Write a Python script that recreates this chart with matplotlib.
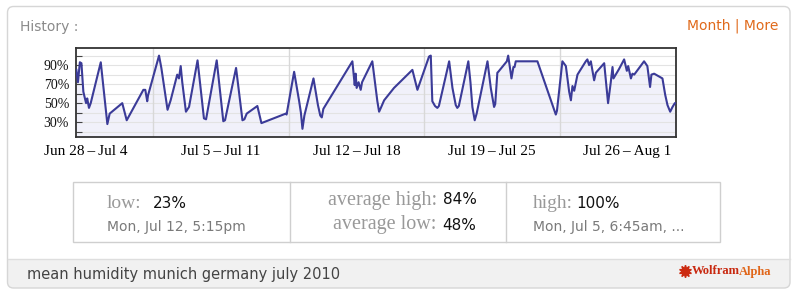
import matplotlib
matplotlib.use("Agg")
import matplotlib.pyplot as plt
from matplotlib.patches import FancyBboxPatch, Rectangle

# humidity trace, x = day of July (1.0 = Jul 1 00:00), y = percent
days = [1.02, 1.10, 1.20, 1.28, 1.38, 1.52, 1.58, 1.67, 1.76, 2.28, 2.62, 2.74,
        3.39, 3.62, 4.48, 4.58, 4.68, 4.72, 5.29, 5.41, 5.73, 5.89, 6.23, 6.32,
        6.41, 6.49, 6.68, 6.84, 7.28, 7.61, 7.72, 8.27, 8.61, 8.70, 9.27, 9.60,
        9.70, 9.82, 10.37, 10.58, 11.84, 11.88, 12.27, 12.53, 12.62, 12.70, 12.80,
        13.27, 13.50, 13.62, 13.70, 13.78, 15.28, 15.40, 15.45, 15.50, 15.60,
        15.71, 15.78, 16.31, 16.57, 16.66, 16.75, 16.92, 17.43, 18.38, 18.64,
        19.24, 19.33, 19.41, 19.55, 19.67, 19.75, 20.28, 20.45, 20.62, 20.70,
        20.78, 21.27, 21.38, 21.48, 21.60, 21.70, 22.26, 22.43, 22.60, 22.66,
        22.77, 22.82, 23.26, 23.33, 23.40, 23.50, 23.60, 23.66, 23.72, 24.84,
        25.79, 25.85, 26.13, 26.31, 26.48, 26.57, 26.65, 26.74, 26.91, 27.34,
        27.42, 27.51, 27.60, 27.77, 27.86, 28.29, 28.49, 28.63, 28.72, 28.77,
        29.06, 29.32, 29.46, 29.53, 29.67, 29.75, 29.84, 30.35, 30.52, 30.66,
        30.73, 30.87, 31.30, 31.44, 31.56, 31.70, 31.82, 31.94, 32.0]
humidity = [85, 72, 93, 92, 62, 50, 55, 45, 50, 93, 28, 39,
            50, 32, 64, 64, 52, 58, 100, 87, 43, 53, 80, 76,
            89, 72, 41, 46, 95, 34, 33, 95, 31, 32, 87, 32,
            33, 39, 47, 29, 39, 38, 83, 52, 40, 23, 37,
            76, 48, 37, 35, 44, 94, 69, 81, 66, 72,
            64, 72, 94, 52, 41, 45, 53, 66, 85, 64,
            99, 100, 52, 47, 45, 47, 94, 66, 48, 45,
            47, 94, 72, 46, 32, 39, 94, 66, 46, 49,
            82, 83, 94, 100, 90, 76, 88, 88, 94, 94,
            38, 42, 94, 89, 62, 53, 68, 63, 80, 94,
            96, 90, 94, 74, 82, 92, 50, 72, 88, 76,
            86, 96, 84, 89, 76, 81, 80, 94, 89, 67,
            80, 81, 76, 59, 48, 41, 46, 50, 50]

week_labels = ["Jun 28\u2009\u2013\u2009Jul 4", "Jul 5\u2009\u2013\u2009Jul 11",
               "Jul 12\u2009\u2013\u2009Jul 18", "Jul 19\u2009\u2013\u2009Jul 25",
               "Jul 26\u2009\u2013\u2009Aug 1"]
week_centers = [1.5, 8.5, 15.5, 22.5, 29.5]
week_bounds = [5, 12, 19, 26]
y_ticks = [20, 30, 40, 50, 60, 70, 80, 90, 100]
y_labelled = [30, 50, 70, 90]

W, H = 800, 297
fig = plt.figure(figsize=(W / 100, H / 100), dpi=100)

# pixel-space background layer for the card, table and footer
bg = fig.add_axes([0, 0, 1, 1])
bg.set_xlim(0, W)
bg.set_ylim(H, 0)
bg.axis("off")

card = FancyBboxPatch((7.5, 6.5), 782.5, 281.5,
                      boxstyle="round,pad=0,rounding_size=6",
                      fc="white", ec="none")
bg.add_patch(card)
footer = Rectangle((0, 258.5), W, 40, fc="#f1f1f1", ec="none")
bg.add_patch(footer)
footer.set_clip_path(card)
bg.plot([7.5, 790], [258.5, 258.5], color="#dedede", lw=1)
bg.add_patch(FancyBboxPatch((7.5, 6.5), 782.5, 281.5,
                            boxstyle="round,pad=0,rounding_size=6",
                            fc="none", ec="#d6d6d6", lw=1))

sans = "DejaVu Sans"
serif = "Liberation Serif"

bg.text(20, 27, "History :", fontsize=10, color="#8a8a8a", family=sans, va="center")
bg.text(778, 26, "Month | More", fontsize=10, color="#e0691a", family=sans,
        va="center", ha="right")

# summary table
bg.add_patch(Rectangle((72.5, 181.5), 647, 60, fc="none", ec="#cfcfcf", lw=1))
bg.plot([289.5, 289.5], [181.5, 241.5], color="#cfcfcf", lw=1)
bg.plot([505.5, 505.5], [181.5, 241.5], color="#cfcfcf", lw=1)

bg.text(107, 203, "low:", fontsize=14, color="#999999", family=serif, va="center")
bg.text(152.5, 203, "23%", fontsize=11, color="#111111", family=sans, va="center")
bg.text(107, 226.5, "Mon, Jul 12, 5:15pm", fontsize=10, color="#7a7a7a",
        family=sans, va="center")

bg.text(437, 200, "average high:", fontsize=14.5, color="#999999", family=serif,
        va="center", ha="right")
bg.text(442.5, 200, "84%", fontsize=11, color="#111111", family=sans, va="center")
bg.text(436, 225, "average low:", fontsize=14.5, color="#999999", family=serif,
        va="center", ha="right")
bg.text(442.5, 225, "48%", fontsize=11, color="#111111", family=sans, va="center")

bg.text(533, 203, "high:", fontsize=14, color="#999999", family=serif, va="center")
bg.text(576.5, 203, "100%", fontsize=11, color="#111111", family=sans, va="center")
bg.text(533, 226.5, "Mon, Jul 5, 6:45am, ...", fontsize=10, color="#7a7a7a",
        family=sans, va="center")

# footer
bg.text(27, 274, "mean humidity munich germany july 2010", fontsize=10.5,
        color="#444444", family=sans, va="center")
bg.plot([685], [271], marker=(10, 1, 0), ms=9, color="#cc2a10", ls="none")
wolf = bg.text(692, 271.5, "Wolfram", fontsize=9, color="#c8280f", family=serif,
               weight="bold", va="center")
renderer = fig.canvas.get_renderer()
wolf_end = wolf.get_window_extent(renderer).x1
bg.text(wolf_end - 1, 271.5, "Alpha", fontsize=9, color="#e0661a", family=serif,
        weight="bold", va="center")

# the humidity chart
ax = fig.add_axes([76 / W, 1 - 137 / H, 600 / W, 89 / H])
ax.set_facecolor("white")
ax.set_xlim(1, 32)
ax.set_ylim(14.4, 108)

ax.fill_between(days, humidity, 14.4, color="#f1f1fa", lw=0, zorder=1)
for v in y_ticks:
    ax.axhline(v, color="#e3e3e3", lw=0.8, zorder=1.5)
for d in week_bounds:
    ax.axvline(d, color="#d8d8d8", lw=1, zorder=1.5)
ax.plot(days, humidity, color="#3b3b98", lw=1.5, zorder=3)

ax.set_yticks(y_ticks)
ax.set_yticklabels([f"{v}%" if v in y_labelled else "" for v in y_ticks],
                   family=serif, fontsize=10, color="#111111")
ax.tick_params(axis="y", direction="in", length=4, width=0.8, color="#444444", pad=5)
ax.set_xticks(week_centers)
ax.set_xticklabels(week_labels, family=serif, fontsize=11, color="#000000")
ax.tick_params(axis="x", length=0, pad=6)
for s in ax.spines.values():
    s.set_color("#333333")
    s.set_linewidth(1.3)

fig.savefig("out.png", dpi=100)
